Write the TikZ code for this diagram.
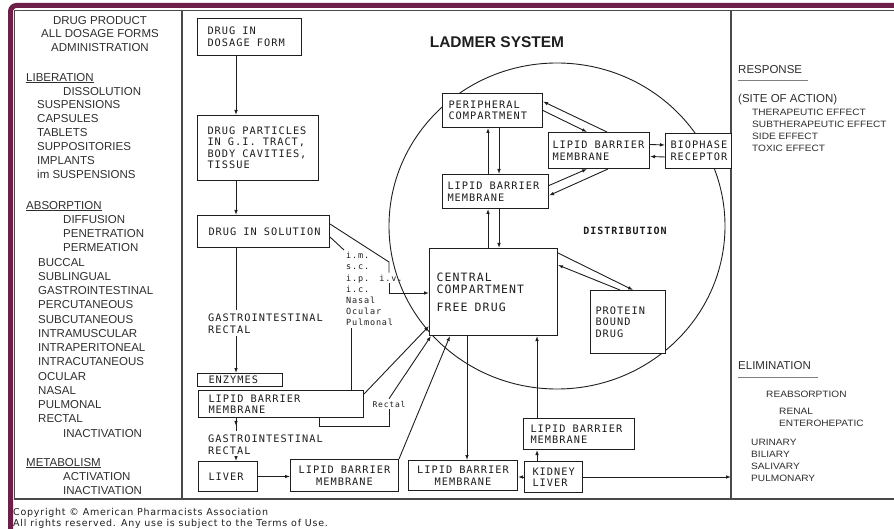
\documentclass[tikz,border=0pt]{standalone}
\usepackage{fontspec}
\setmainfont{Liberation Sans}
\newfontfamily\bxf[LetterSpace=10]{DejaVu Sans Mono}
\newfontfamily\cpf[LetterSpace=8]{DejaVu Sans}
\newfontfamily\rtf[FakeStretch=1.1]{Liberation Sans}
\usetikzlibrary{arrows.meta,calc,decorations.markings}
\definecolor{ink}{HTML}{1E1E1E}
\definecolor{framec}{HTML}{4A4A4A}
\definecolor{maroonc}{HTML}{6E1F47}
\definecolor{txt}{HTML}{2E2E2E}
\newcommand\ldsp{\kern 7pt\relax}
\newcommand\ldbox[8][left]{%
  \pgfmathsetmacro\ldtw{#5-#3-2*#7}%
  \node[bx,align=#1,inner xsep=#7pt,minimum width={#5-#3},minimum height={#6-#4},text width=\ldtw pt] (#2) at (#3,#4) {#8};}
\begin{document}
\begin{tikzpicture}[x=1pt,y=-1pt,
  bx/.style={draw=ink,line width=1pt,fill=white,anchor=north west,inner ysep=0pt,text=ink,font=\bxf\fontsize{10.3}{11.5}\selectfont},
  ln/.style={draw=ink,line width=0.9pt},
  arr/.style={-{Latex[length=5pt,width=3.6pt]}},
  midarr/.style={decoration={markings,mark=at position 0.6 with {\arrow{Latex[length=5pt,width=3.6pt]}}},postaction={decorate}},
  lc/.style={anchor=north west,inner sep=0pt,align=left,text=txt,font=\fontsize{11.5}{14.25}\selectfont},
  rc/.style={anchor=north west,inner sep=0pt,align=left,text=txt,font=\rtf\fontsize{9.2}{12.2}\selectfont},
  lbl/.style={inner xsep=0pt,inner ysep=3pt,text=ink,font=\bxf\fontsize{10.3}{12}\selectfont,align=left},
  sml/.style={inner sep=2pt,text=ink,font=\bxf\fontsize{8.5}{11.2}\selectfont,align=left}]
\useasboundingbox (0,0) rectangle (894,529);
% card border and frame
\draw[maroonc,line width=5pt,rounded corners=6pt] (10.5,560) -- (10.5,5.5) -- (920,5.5);
\draw[framec,line width=1.3pt] (14.5,10.5) rectangle (920,499);
\draw[framec,line width=1.3pt] (182,10.5) -- (182,499);
\draw[framec,line width=1.3pt] (731,10.5) -- (731,499);
% named columns
\coordinate (cA) at (236,0);
\coordinate (cB) at (488,0);
\coordinate (cC) at (499,0);
\coordinate (cD) at (467,0);
\coordinate (cE) at (537,0);
\coordinate (imx) at (351,0);
\coordinate (ivb) at (389,262);
\coordinate (ivrow) at (0,293);
\coordinate (sepR) at (731,0);
% distribution circle
\draw[ln] (557,226) ellipse [x radius=168, y radius=163];
% left column
\node[anchor=north,inner sep=0pt,align=center,text=txt,font=\fontsize{11.5}{13.5}\selectfont] (hdr) at (100,15.9) {DRUG PRODUCT\\ALL DOSAGE FORMS\\ADMINISTRATION};
\node[lc,font=\fontsize{11.5}{13.9}\selectfont] (lib) at (26,72.9) {\underline{LIBERATION}\\\hspace*{37pt}DISSOLUTION\\\hspace*{11pt}SUSPENSIONS\\\hspace*{11pt}CAPSULES\\\hspace*{11pt}TABLETS\\\hspace*{11pt}SUPPOSITORIES\\\hspace*{11pt}IMPLANTS\\\hspace*{11pt}im SUSPENSIONS};
\node[lc] (abs) at (26,200.9) {\underline{ABSORPTION}\\\hspace*{37pt}DIFFUSION\\\hspace*{37pt}PENETRATION\\\hspace*{37pt}PERMEATION\\\hspace*{12pt}BUCCAL\\\hspace*{12pt}SUBLINGUAL\\\hspace*{12pt}GASTROINTESTINAL\\\hspace*{12pt}PERCUTANEOUS\\\hspace*{12pt}SUBCUTANEOUS\\\hspace*{12pt}INTRAMUSCULAR\\\hspace*{12pt}INTRAPERITONEAL\\\hspace*{12pt}INTRACUTANEOUS\\\hspace*{12pt}OCULAR\\\hspace*{12pt}NASAL\\\hspace*{12pt}PULMONAL\\\hspace*{12pt}RECTAL\\\hspace*{37pt}INACTIVATION};
\node[lc,font=\fontsize{11.5}{14}\selectfont] (met) at (26,457.9) {\underline{METABOLISM}\\\hspace*{37pt}ACTIVATION\\\hspace*{37pt}INACTIVATION};
% right column
\node[lc] (resp) at (738,64.9) {RESPONSE};
\draw[gray,line width=1.4pt] ($(resp.south west)+(0,7)$) -- ++(70,0);
\node[lc] (site) at (738,93.9) {(SITE OF ACTION)};
\node[rc] (eff) at (752,108.7) {THERAPEUTIC EFFECT\\SUBTHERAPEUTIC EFFECT\\SIDE EFFECT\\TOXIC EFFECT};
\node[lc] (elim) at (738,360.9) {ELIMINATION};
\draw[gray,line width=1.4pt] ($(elim.south west)+(0,8)$) -- ++(80,0);
\node[rc] (reab) at (766,390.7) {REABSORPTION};
\node[rc,font=\rtf\fontsize{9.2}{12}\selectfont] (renal) at (779,407.7) {RENAL\\ENTEROHEPATIC};
\node[rc,font=\rtf\fontsize{9.2}{12}\selectfont] (urin) at (751,438.7) {URINARY\\BILIARY\\SALIVARY\\PULMONARY};
% title and labels
\node[inner sep=0pt,text=ink,font=\bfseries\fontsize{15.5}{18}\selectfont] (title) at (497,42) {LADMER SYSTEM};
\node[inner sep=0pt,text=ink,font=\bxf\bfseries\fontsize{10}{12}\selectfont] (dist) at (625,231) {DISTRIBUTION};
% boxes
\ldbox{dosage}{197}{18}{301}{55}{10}{DRUG\ldsp IN\\DOSAGE\ldsp FORM}
\ldbox{particles}{197}{115}{318}{180}{10}{DRUG\ldsp PARTICLES\\IN\ldsp G.I.\ldsp TRACT,\\BODY\ldsp CAVITIES,\\TISSUE}
\ldbox{solution}{197}{215}{329}{247}{11}{DRUG\ldsp IN\ldsp SOLUTION}
\ldbox{enz}{197}{373}{282}{386}{11}{ENZYMES}
\ldbox{lipidGI}{198}{390}{363}{417}{10}{LIPID\ldsp BARRIER\\MEMBRANE}
\ldbox{liver}{198}{461}{257}{491}{10}{LIVER}
\ldbox[center]{lipidLv}{290}{459}{398}{491}{2}{LIPID\ldsp BARRIER\\MEMBRANE}
\ldbox{central}{429}{248}{557}{335}{7}{\fontsize{11.5}{12.5}\selectfont CENTRAL\\COMPARTMENT\\[6pt]FREE\ldsp DRUG}
\ldbox[center]{lipidEx}{408}{460}{517}{490}{2}{LIPID\ldsp BARRIER\\MEMBRANE}
\ldbox{kidney}{524}{461}{582}{492}{8}{KIDNEY\\LIVER}
\ldbox{lipidKd}{523}{418}{634}{449}{7}{LIPID\ldsp BARRIER\\MEMBRANE}
\ldbox{periph}{442}{93}{542}{127}{6}{PERIPHERAL\\COMPARTMENT}
\ldbox{lipidL}{442}{174}{548}{208}{5}{LIPID\ldsp BARRIER\\MEMBRANE}
\ldbox{lipidR}{548}{132}{649}{168}{4}{LIPID\ldsp BARRIER\\MEMBRANE}
\ldbox{bio}{665}{133}{731}{168}{5}{BIOPHASE\\RECEPTOR}
\ldbox{protein}{590}{290}{665}{353}{5}{PROTEIN\\BOUND\\DRUG}
% route labels
\node[lbl,anchor=north west] (gi1) at (208,310.3) {GASTROINTESTINAL\\RECTAL};
\node[lbl,anchor=north west] (gi2) at (208,431.3) {GASTROINTESTINAL\\RECTAL};
\node[sml] (iv) at (391,278) {i.v.};
\node[sml,anchor=north west] (im) at (344,250) {i.m.\\s.c.\\i.p.\\i.c.\\Nasal\\Ocular\\Pulmonal};
\node[sml,font=\bxf\fontsize{8}{10}\selectfont] (rectal) at (389,404) {Rectal};
% connectors: absorption path
\draw[ln,arr] (dosage.south -| cA) -- (particles.north -| cA);
\draw[ln,arr] (particles.south -| cA) -- (solution.north -| cA);
\draw[ln] (solution.south -| cA) -- (gi1.north -| cA);
\draw[ln,arr] (gi1.south -| cA) -- (enz.north -| cA);
\draw[ln,midarr] (lipidGI.south -| cA) -- (gi2.north -| cA);
\draw[ln,arr] (gi2.south -| cA) -- (liver.north -| cA);
\draw[ln,arr] (liver.east) -- (liver.east -| lipidLv.west);
\draw[ln,arr] (lipidLv.north east) -- ($(central.south west)+(21,0)$);
\draw[ln,arr] ($(lipidGI.north east)+(0,4)$) -- ($(central.south west)+(0,-10)$);
\draw[ln] ($(lipidGI.south west)+(121,0)$) -- ++(0,8) -| (rectal.south);
\draw[ln,arr] (rectal.north) -- ($(central.south west)+(2,0)$);
\draw[ln] ($(solution.north east)+(0,9)$) -- (ivb) -- (iv.north -| ivb);
\draw[ln,arr] (iv.south -| ivb) |- (central.west |- ivrow);
\draw[ln] ($(solution.north east)+(0,22)$) -- (im.north west);
\draw[ln] (im.south -| imx) -- (lipidGI.north -| imx);
% distribution
\draw[ln,arr] (lipidL.north -| cB) -- (periph.south -| cB);
\draw[ln,arr] (periph.south -| cC) -- (lipidL.north -| cC);
\draw[ln,arr] (central.north -| cB) -- (lipidL.south -| cB);
\draw[ln,arr] (lipidL.south -| cC) -- (central.north -| cC);
\draw[ln,arr] ($(lipidR.north west)+(59,0)$) -- ($(periph.east)+(0,-9)$);
\draw[ln,arr] (periph.east) -- ($(lipidR.north west)+(39,0)$);
\draw[ln,arr] ($(lipidL.east)+(0,-6)$) -- ($(lipidR.south west)+(39,0)$);
\draw[ln,arr] ($(lipidR.south west)+(60,0)$) -- ($(lipidL.east)+(0,4)$);
\draw[ln,arr] ($(lipidR.east)+(0,-6)$) -- ($(bio.west)+(0,-6)$);
\draw[ln,arr] ($(bio.west)+(0,6)$) -- ($(lipidR.east)+(0,6)$);
\draw[ln,arr] ($(central.north east)+(0,5)$) -- ($(protein.north west)+(43,0)$);
\draw[ln,arr] ($(protein.north west)+(30,0)$) -- ($(central.north east)+(0,17)$);
% elimination
\draw[ln,arr] (central.south -| cD) -- (lipidEx.north -| cD);
\draw[ln,arr] (kidney.west) -- (kidney.west -| lipidEx.east);
\draw[ln,arr] (kidney.north -| cE) -- (lipidKd.south -| cE);
\draw[ln,arr] (lipidKd.north -| cE) -- (central.south -| cE);
\draw[ln,arr] (kidney.east) -- (kidney.east -| sepR);
% copyright
\node[anchor=north west,inner sep=0pt,align=left,text=ink,font=\cpf\fontsize{9.5}{11}\selectfont] (copy) at (13,508.5) {Copyright \textcopyright{} American Pharmacists Association\\All rights reserved. Any use is subject to the Terms of Use.};
\end{tikzpicture}
\end{document}
